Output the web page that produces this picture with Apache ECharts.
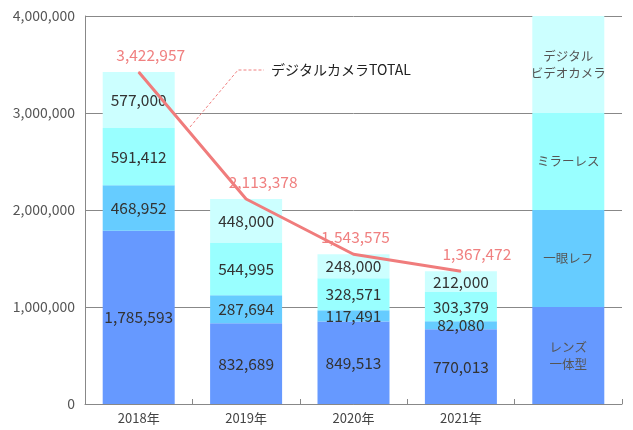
<!DOCTYPE html>
<html><head><meta charset="utf-8">
<script src="https://cdn.jsdelivr.net/npm/echarts@6/dist/echarts.min.js"></script>
<style>html,body{margin:0;padding:0;background:#fff}#c{width:633px;height:430px}</style>
</head><body><div id="c"></div>
<script>
const categories = ['2018年','2019年','2020年','2021年',''];
const lensIntegrated = [1785593, 832689, 849513, 770013];
const slr = [468952, 287694, 117491, 82080];
const mirrorless = [591412, 544995, 328571, 303379];
const videoCam = [577000, 448000, 248000, 212000];
const totals = [3422957, 2113378, 1543575, 1367472];
const legendBlock = 1000000;
const seriesNames = ['レンズ\n一体型','一眼レフ','ミラーレス','デジタル\nビデオカメラ'];
const colors = ['#6699FF','#66CCFF','#99FFFF','#CCFFFF'];
const lineName = 'デジタルカメラTOTAL';

const FONT = '"Noto Sans CJK JP", "Noto Sans", sans-serif';
const fmt = v => v.toLocaleString('en-US');

const chart = echarts.init(document.getElementById('c'));
const stacks = [lensIntegrated, slr, mirrorless, videoCam];
const barSeries = stacks.map((arr, i) => ({
  name: seriesNames[i],
  type: 'bar',
  stack: 'a',
  barWidth: 72,
  itemStyle: { color: colors[i] },
  data: arr.map(v => v).concat([{ value: legendBlock, label: { fontSize: 12.5, color: '#555', lineHeight: 17 } }]),
  label: {
    show: true,
    position: 'inside',
    fontFamily: FONT,
    formatter: p => p.dataIndex === 4 ? seriesNames[i] : fmt(p.value),
    color: '#333',
    fontSize: 15.5
  }
}));

const lineOffsets = [[12, 0], [17, 0], [2, 0], [16, 0]];
const lineSeries = {
  name: lineName,
  type: 'line',
  data: totals.map((v, i) => ({ value: v, label: { offset: lineOffsets[i] } })).concat(['-']),
  symbol: 'circle',
  symbolSize: 1,
  showSymbol: true,
  lineStyle: { color: '#F07C7C', width: 3 },
  itemStyle: { color: '#F07C7C' },
  z: 5,
  label: {
    show: true,
    position: 'top',
    distance: 9,
    color: '#F08080',
    fontSize: 15.5,
    fontFamily: FONT,
    formatter: p => fmt(p.value)
  }
};

chart.setOption({
  animation: false,
  grid: { left: 85, right: 11, top: 16, bottom: 26 },
  xAxis: {
    type: 'category',
    data: categories,
    axisLine: { lineStyle: { color: '#888' } },
    axisTick: { show: true, inside: true, length: 5, lineStyle: { color: '#888' } },
    axisLabel: { color: '#444', fontSize: 13, fontFamily: FONT, margin: 8 }
  },
  yAxis: {
    type: 'value',
    min: 0, max: 4000000, interval: 1000000,
    axisLine: { show: true, lineStyle: { color: '#888' } },
    axisTick: { show: false },
    splitLine: { lineStyle: { color: '#888' } },
    axisLabel: { color: '#555', fontSize: 14, fontFamily: FONT, margin: 10, formatter: v => fmt(v) }
  },
  series: barSeries.concat([lineSeries]),
  graphic: [
    { type: 'polyline', shape: { points: [[190, 127], [238, 70], [264, 70]] },
      style: { stroke: '#F08080', lineWidth: 1, lineDash: [3, 2], fill: null }, z: 10 },
    { type: 'text', left: 271, top: 63,
      style: { text: lineName, fill: '#222', fontSize: 14, fontFamily: FONT } }
  ]
});
</script></body></html>
